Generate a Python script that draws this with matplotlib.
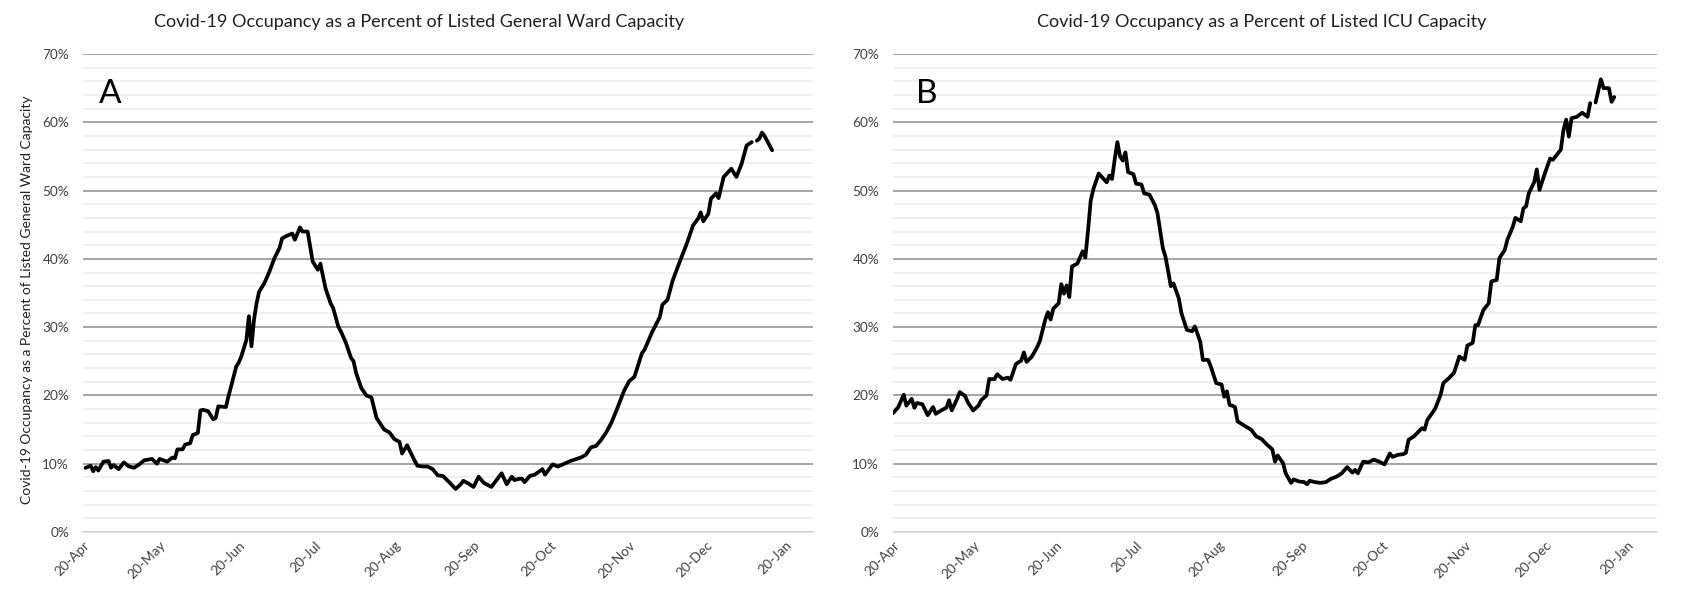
import numpy as np
import pandas as pd
import matplotlib
matplotlib.use("Agg")
import matplotlib.pyplot as plt
import matplotlib.dates as mdates
from matplotlib.ticker import MultipleLocator, FuncFormatter

plt.rcParams['font.family'] = ['Lato', 'DejaVu Sans']

START = "2020-04-20"
nan = np.nan

# General ward occupancy (% of listed capacity); day offsets from 20-Apr-2020
gw_days = [1, 3, 4, 5, 6, 8, 10, 11, 12, 14, 16, 18, 20, 22, 24, 27, 29, 30, 33, 35, 36, 37, 39, 40,
           42, 43, 45, 46, 47, 49, 51, 52, 53, 56, 57, 58, 60, 61, 62, 64, 65, 66, 67, 68, 69, 71,
           73, 75, 77, 78, 80, 82, 83, 85, 86, 88, 90, 92, 93, 95, 97, 98, 100, 101, 103, 105, 106,
           107, 109, 111, 113, 115, 118, 120, 122, 124, 125, 127, 128, 130, 131, 133, 135, 137, 139,
           141, 144, 146, 148, 149, 151, 153, 155, 157, 160, 162, 164, 166, 168, 169, 171, 172, 173,
           175, 177, 180, 181, 184, 186, 188, 191, 195, 197, 199, 201, 203, 205, 207, 209, 212, 214,
           216, 219, 220, 223, 226, 227, 229, 231, 234, 236, 237, 239, 241, 242, 243, 245, 246, 248,
           249, 251, 254, 256, 258, 260, 262, 263, 264, 265, 266, 267, 269, 270]
gw_vals = [9.4, 9.7, 8.9, 9.5, 9.0, 10.3, 10.4, 9.4, 9.8, 9.2, 10.2, 9.6, 9.4, 9.9, 10.5, 10.7, 10.0,
           10.7, 10.3, 10.9, 10.8, 12.1, 12.1, 12.8, 13.0, 14.2, 14.5, 17.8, 17.9, 17.7, 16.5, 16.7,
           18.4, 18.3, 19.9, 21.3, 24.2, 24.8, 25.7, 28.1, 31.6, 27.2, 31.1, 33.5, 35.2, 36.4, 38.1,
           40.1, 41.6, 43.0, 43.4, 43.7, 42.8, 44.6, 44.0, 44.0, 39.6, 38.4, 39.3, 35.7, 33.5, 32.8,
           30.1, 29.4, 27.7, 25.5, 25.0, 23.3, 21.1, 20.0, 19.7, 16.7, 15.0, 14.6, 13.6, 13.2, 11.5,
           12.7, 11.9, 10.4, 9.7, 9.6, 9.6, 9.2, 8.3, 8.2, 7.1, 6.3, 7.0, 7.5, 7.1, 6.6, 8.1, 7.2,
           6.6, 7.6, 8.6, 7.0, 8.1, 7.6, 7.8, 7.8, 7.3, 8.2, 8.4, 9.2, 8.4, 9.9, 9.6, 9.9, 10.4, 10.9,
           11.3, 12.4, 12.6, 13.5, 14.6, 16.0, 17.8, 20.7, 22.1, 22.7, 26.2, 26.7, 29.3, 31.5, 33.3,
           34.0, 36.8, 39.8, 41.7, 42.7, 44.9, 45.9, 46.8, 45.5, 46.6, 48.8, 49.6, 48.9, 52.0, 53.2,
           52.0, 53.9, 56.6, 57.1, nan, 57.3, 57.6, 58.5, 58.0, 56.6, 55.9]

# ICU occupancy (% of listed capacity)
icu_days = [0, 2, 4, 5, 7, 8, 9, 11, 13, 15, 16, 18, 20, 21, 22, 24, 25, 27, 28, 30, 32, 33, 35, 36,
            38, 39, 41, 43, 44, 46, 48, 49, 50, 52, 54, 55, 57, 58, 59, 60, 62, 63, 64, 65, 66, 67,
            69, 71, 72, 73, 74, 75, 77, 80, 81, 82, 83, 84, 85, 86, 87, 88, 90, 91, 93, 94, 96, 98,
            99, 100, 101, 102, 103, 104, 105, 107, 108, 110, 112, 113, 115, 116, 118, 119, 121, 123,
            124, 125, 126, 127, 128, 129, 131, 134, 136, 138, 140, 142, 143, 144, 146, 147, 148, 149,
            150, 152, 154, 155, 156, 158, 160, 162, 164, 166, 168, 170, 172, 173, 174, 176, 178, 180,
            182, 184, 186, 187, 189, 191, 192, 193, 195, 196, 198, 199, 200, 202, 203, 205, 206, 208,
            210, 212, 214, 215, 217, 218, 219, 221, 223, 224, 226, 227, 229, 230, 232, 233, 235, 236,
            237, 238, 240, 241, 242, 244, 246, 247, 249, 250, 251, 252, 253, 254, 256, 258, 260, 261,
            262, 263, 265, 266, 268, 269, 270]
icu_vals = [17.4, 18.3, 20.1, 18.5, 19.5, 18.2, 18.9, 18.7, 17.1, 18.3, 17.3, 17.8, 18.2, 19.3, 17.8,
            19.5, 20.5, 19.9, 19.0, 17.8, 18.5, 19.3, 20.0, 22.4, 22.4, 23.1, 22.4, 22.6, 22.3, 24.6,
            25.1, 26.3, 24.9, 25.7, 27.1, 28.0, 31.1, 32.2, 31.1, 32.7, 33.5, 36.3, 34.9, 36.1, 34.4,
            38.9, 39.3, 41.1, 40.2, 44.1, 48.5, 50.2, 52.5, 51.2, 52.2, 51.7, 54.6, 57.1, 55.0, 54.4,
            55.6, 52.7, 52.4, 51.0, 50.9, 49.6, 49.4, 47.9, 46.7, 44.2, 41.6, 40.3, 38.2, 36.0, 36.4,
            34.2, 32.0, 29.6, 29.4, 30.1, 27.9, 25.2, 25.2, 24.2, 21.8, 21.6, 19.8, 20.6, 18.6, 18.5,
            18.3, 16.2, 15.7, 15.0, 14.0, 13.6, 12.8, 12.1, 10.3, 11.2, 10.1, 8.6, 7.9, 7.2, 7.7, 7.4,
            7.3, 7.0, 7.5, 7.3, 7.2, 7.3, 7.8, 8.1, 8.6, 9.5, 8.7, 9.1, 8.6, 10.3, 10.2, 10.6, 10.3,
            9.9, 11.5, 11.0, 11.3, 11.4, 11.6, 13.5, 14.0, 14.4, 15.2, 15.0, 16.4, 17.5, 18.1, 20.1,
            21.8, 22.5, 23.3, 25.7, 25.2, 27.3, 27.7, 30.3, 30.3, 32.5, 33.5, 36.7, 36.9, 40.1, 41.3,
            42.8, 44.7, 46.0, 45.5, 47.4, 47.7, 49.6, 51.2, 53.1, 50.1, 52.5, 54.7, 54.5, 55.5, 56.0,
            58.9, 60.4, 57.9, 60.6, 60.8, 61.4, 60.8, 62.8, nan, 62.9, 66.3, 65.0, 65.0, 63.0, 63.7]

titles = ["Covid-19 Occupancy as a Percent of Listed General Ward Capacity",
          "Covid-19 Occupancy as a Percent of Listed ICU Capacity"]
panel_letters = ["A", "B"]
y_label = "Covid-19 Occupancy as a Percent of Listed General Ward Capacity"
tick_dates = pd.date_range("2020-04-01", "2021-01-01", freq="MS") + pd.Timedelta(days=19)

W, H = 1684, 600
fig = plt.figure(figsize=(W / 100, H / 100), dpi=100)
axA = fig.add_axes([83 / W, 68 / H, 730 / W, 478 / H])
axB = fig.add_axes([893 / W, 68 / H, 764 / W, 478 / H])

start = pd.Timestamp(START)
series = [(gw_days, gw_vals), (icu_days, icu_vals)]
for ax, (days, vals) in zip([axA, axB], series):
    dates = start + pd.to_timedelta(days, unit="D")
    ax.plot(dates, vals, color="black", lw=2.7, solid_joinstyle="round", solid_capstyle="round", zorder=3)
    ax.set_xlim(pd.Timestamp("2020-04-20"), pd.Timestamp("2021-01-31"))
    ax.set_ylim(0, 70)
    ax.yaxis.set_major_locator(MultipleLocator(10))
    ax.yaxis.set_minor_locator(MultipleLocator(2))
    ax.yaxis.set_major_formatter(FuncFormatter(lambda v, p: f"{v:.0f}%"))
    ax.grid(which="major", axis="y", color="#8c8c8c", lw=1.1, zorder=1)
    ax.grid(which="minor", axis="y", color="#ececec", lw=1.1, zorder=0)
    ax.set_xticks(tick_dates)
    ax.xaxis.set_major_formatter(mdates.DateFormatter("%d-%b"))
    for s in ["top", "right", "left"]:
        ax.spines[s].set_visible(False)
    ax.spines["bottom"].set_color("#dcdcdc")
    ax.spines["bottom"].set_linewidth(1.1)
    ax.tick_params(axis="both", which="both", length=0, labelsize=9.8, colors="#404040")
    ax.tick_params(axis="y", pad=10)
    ax.tick_params(axis="x", pad=5)
    for lab in ax.get_xticklabels():
        lab.set_rotation(45)
        lab.set_ha("right")
        lab.set_rotation_mode("anchor")

fig.text(419 / W, 1 - 22 / H, titles[0], ha="center", va="center", fontsize=13, color="#202020")
fig.text(1262 / W, 1 - 22 / H, titles[1], ha="center", va="center", fontsize=13, color="#202020")
fig.text(99 / W, 1 - 103 / H, panel_letters[0], ha="left", va="baseline", fontsize=24, color="black")
fig.text(916 / W, 1 - 103 / H, panel_letters[1], ha="left", va="baseline", fontsize=24, color="black")
fig.text(27 / W, 1 - 300 / H, y_label, ha="center", va="center", rotation=90, fontsize=10, color="#202020")

fig.savefig("out.png", dpi=100, facecolor="white")
